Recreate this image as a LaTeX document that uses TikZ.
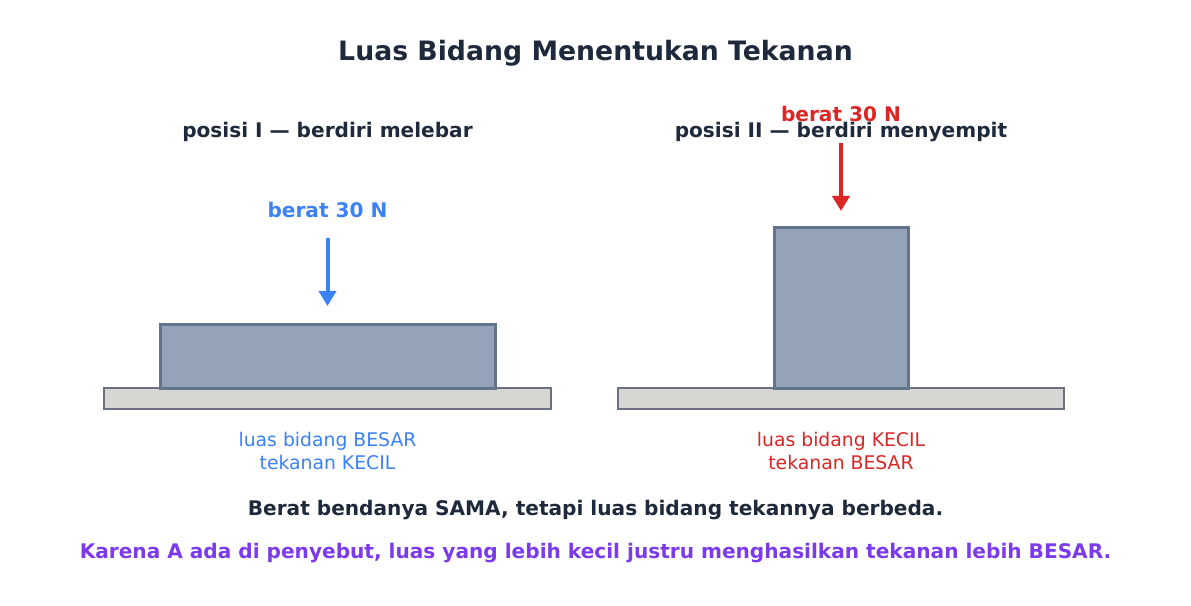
\documentclass[tikz,border=0pt]{standalone}
\usepackage{fontspec}
\setmainfont{DejaVu Sans}
\usetikzlibrary{arrows.meta}
\definecolor{ink}{HTML}{1E293B}
\definecolor{bluec}{HTML}{3B82F6}
\definecolor{redc}{HTML}{DC2626}
\definecolor{purp}{HTML}{7C3AED}
\definecolor{blockfill}{HTML}{94A3B8}
\definecolor{blockline}{HTML}{64748B}
\definecolor{groundfill}{HTML}{D6D6D2}
\definecolor{groundline}{HTML}{6B7085}
\tikzset{
  blockbox/.style={draw=blockline, fill=blockfill, line width=3bp},
  groundbox/.style={draw=groundline, fill=groundfill, line width=2bp},
  forcearrow/.style={line width=4bp, -{Triangle[width=17bp,length=15bp]}},
  titletext/.style={anchor=base, text=ink, font=\bfseries\fontsize{26.7bp}{30bp}\selectfont},
  headtext/.style={anchor=base, text=ink, font=\bfseries\fontsize{20.1bp}{24bp}\selectfont},
  forcetext/.style={anchor=base, font=\bfseries\fontsize{20.1bp}{24bp}\selectfont},
  labeltext/.style={anchor=base, font=\fontsize{18.8bp}{22bp}\selectfont, align=center},
  bottomtext/.style={anchor=base, font=\bfseries\fontsize{20.1bp}{24bp}\selectfont},
}
\begin{document}
\begin{tikzpicture}[x=1bp,y=-1bp]
\useasboundingbox[fill=white] (0,0) rectangle (1191,606);
\node[titletext] (title) at (595.5,61) {Luas Bidang Menentukan Tekanan};
% left
\node[headtext] (head1) at (327.5,138) {posisi I — berdiri melebar};
\node[forcetext, text=bluec] (force1) at (327.5,218) {berat 30 N};
\draw[groundbox] (104,388) rectangle (551,409);
\draw[blockbox] (160,324) rectangle (495,388);
\coordinate (a1s) at (327.5,238);
\coordinate (a1e) at (327.5,306);
\draw[forcearrow, draw=bluec, fill=bluec] (a1s) -- (a1e);
\node[labeltext, text=bluec] (lab1a) at (327.5,446) {luas bidang BESAR};
\node[labeltext, text=bluec] (lab1b) at (327.5,469) {tekanan KECIL};
% right
\node[headtext] (head2) at (841,138) {posisi II — berdiri menyempit};
\node[forcetext, text=redc] (force2) at (841,122) {berat 30 N};
\draw[groundbox] (618,388) rectangle (1064,409);
\draw[blockbox] (774,228) rectangle (908,388);
\coordinate (a2s) at (841,143);
\coordinate (a2e) at (841,211);
\draw[forcearrow, draw=redc, fill=redc] (a2s) -- (a2e);
\node[labeltext, text=redc] (lab2a) at (841,446) {luas bidang KECIL};
\node[labeltext, text=redc] (lab2b) at (841,469) {tekanan BESAR};
% bottom
\node[bottomtext, text=ink] (sum1) at (595.5,515) {Berat bendanya SAMA, tetapi luas bidang tekannya berbeda.};
\node[bottomtext, text=purp] (sum2) at (595.5,558) {Karena A ada di penyebut, luas yang lebih kecil justru menghasilkan tekanan lebih BESAR.};
\end{tikzpicture}
\end{document}
